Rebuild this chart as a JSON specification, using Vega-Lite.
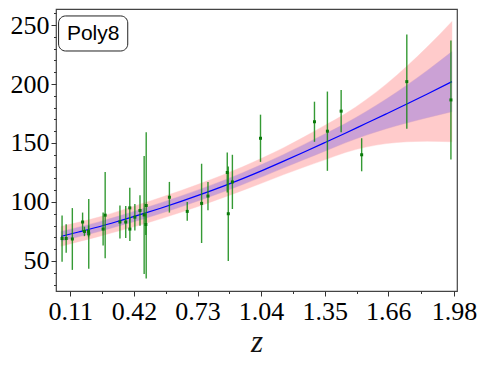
{
  "$schema": "https://vega.github.io/schema/vega-lite/v6.json",
  "autosize": "none",
  "width": 401,
  "height": 282,
  "padding": {"left": 56, "top": 9, "right": 31, "bottom": 75},
  "background": "white",
  "config": {"view": {"stroke": "#444", "strokeWidth": 1.2}},
  "datasets": {
    "fit": [
      {"z": 0.065, "h": 70.8, "lo1": 66.6, "hi1": 75.0, "lo2": 62.4, "hi2": 79.2},
      {"z": 0.15, "h": 74.5, "lo1": 70.4, "hi1": 78.6, "lo2": 66.3, "hi2": 82.7},
      {"z": 0.25, "h": 79.0, "lo1": 74.9, "hi1": 83.1, "lo2": 70.8, "hi2": 87.2},
      {"z": 0.35, "h": 84.0, "lo1": 79.8, "hi1": 88.2, "lo2": 75.6, "hi2": 92.4},
      {"z": 0.45, "h": 89.2, "lo1": 84.8, "hi1": 93.6, "lo2": 80.4, "hi2": 98.0},
      {"z": 0.55, "h": 94.7, "lo1": 90.2, "hi1": 99.2, "lo2": 85.7, "hi2": 103.7},
      {"z": 0.65, "h": 100.5, "lo1": 95.9, "hi1": 105.1, "lo2": 91.3, "hi2": 109.7},
      {"z": 0.75, "h": 106.6, "lo1": 101.9, "hi1": 111.3, "lo2": 97.2, "hi2": 116.0},
      {"z": 0.85, "h": 113.0, "lo1": 108.2, "hi1": 117.8, "lo2": 103.4, "hi2": 122.6},
      {"z": 0.95, "h": 119.8, "lo1": 114.8, "hi1": 124.8, "lo2": 109.8, "hi2": 129.8},
      {"z": 1.05, "h": 127.0, "lo1": 121.7, "hi1": 132.3, "lo2": 116.4, "hi2": 137.6},
      {"z": 1.15, "h": 134.6, "lo1": 128.9, "hi1": 140.3, "lo2": 123.2, "hi2": 146.0},
      {"z": 1.25, "h": 142.4, "lo1": 136.0, "hi1": 148.8, "lo2": 129.6, "hi2": 155.2},
      {"z": 1.35, "h": 150.3, "lo1": 143.0, "hi1": 157.6, "lo2": 135.7, "hi2": 164.9},
      {"z": 1.45, "h": 158.3, "lo1": 150.1, "hi1": 166.5, "lo2": 141.9, "hi2": 174.7},
      {"z": 1.55, "h": 166.5, "lo1": 156.5, "hi1": 176.5, "lo2": 146.5, "hi2": 186.5},
      {"z": 1.65, "h": 174.7, "lo1": 162.1, "hi1": 187.3, "lo2": 149.5, "hi2": 199.9},
      {"z": 1.75, "h": 183.0, "lo1": 167.0, "hi1": 199.0, "lo2": 151.0, "hi2": 215.0},
      {"z": 1.85, "h": 191.5, "lo1": 171.5, "hi1": 211.5, "lo2": 151.5, "hi2": 231.5},
      {"z": 1.97, "h": 202.0, "lo1": 176.5, "hi1": 227.5, "lo2": 151.0, "hi2": 253.0}
    ],
    "obs": [
      {"z": 0.07, "H": 69, "lo": 49.4, "hi": 88.6},
      {"z": 0.09, "H": 69, "lo": 57, "hi": 81},
      {"z": 0.12, "H": 68.6, "lo": 42.4, "hi": 94.8},
      {"z": 0.17, "H": 83, "lo": 75, "hi": 91},
      {"z": 0.179, "H": 75, "lo": 71, "hi": 79},
      {"z": 0.199, "H": 75, "lo": 70, "hi": 80},
      {"z": 0.2, "H": 72.9, "lo": 43.3, "hi": 102.5},
      {"z": 0.27, "H": 77, "lo": 63, "hi": 91},
      {"z": 0.28, "H": 88.8, "lo": 52.2, "hi": 125.4},
      {"z": 0.352, "H": 83, "lo": 69, "hi": 97},
      {"z": 0.3802, "H": 83, "lo": 69.5, "hi": 96.5},
      {"z": 0.4, "H": 95, "lo": 78, "hi": 112},
      {"z": 0.4004, "H": 77, "lo": 66.8, "hi": 87.2},
      {"z": 0.4247, "H": 87.1, "lo": 75.9, "hi": 98.3},
      {"z": 0.4497, "H": 92.8, "lo": 79.9, "hi": 105.7},
      {"z": 0.47, "H": 89, "lo": 39, "hi": 139},
      {"z": 0.4783, "H": 80.9, "lo": 71.9, "hi": 89.9},
      {"z": 0.48, "H": 97, "lo": 35, "hi": 159},
      {"z": 0.593, "H": 104, "lo": 91, "hi": 117},
      {"z": 0.68, "H": 92, "lo": 84, "hi": 100},
      {"z": 0.75, "H": 98.8, "lo": 65.2, "hi": 132.4},
      {"z": 0.781, "H": 105, "lo": 93, "hi": 117},
      {"z": 0.875, "H": 125, "lo": 108, "hi": 142},
      {"z": 0.88, "H": 90, "lo": 50, "hi": 130},
      {"z": 0.9, "H": 117, "lo": 94, "hi": 140},
      {"z": 1.037, "H": 154, "lo": 134, "hi": 174},
      {"z": 1.3, "H": 168, "lo": 151, "hi": 185},
      {"z": 1.363, "H": 160, "lo": 126.4, "hi": 193.6},
      {"z": 1.43, "H": 177, "lo": 159, "hi": 195},
      {"z": 1.53, "H": 140, "lo": 126, "hi": 154},
      {"z": 1.75, "H": 202, "lo": 162, "hi": 242},
      {"z": 1.965, "H": 186.5, "lo": 136.1, "hi": 236.9}
    ]
  },
  "encoding": {
    "x": {
      "type": "quantitative",
      "scale": {"domain": [0.0404, 1.9946], "nice": false, "zero": false},
      "axis": {
        "values": [0.11, 0.265, 0.42, 0.575, 0.73, 0.885, 1.04, 1.195, 1.35, 1.505, 1.66, 1.82, 1.98],
        "format": ".2f",
        "labelExpr": "indexof([0.11,0.42,0.73,1.04,1.35,1.66,1.98], datum.value) >= 0 ? datum.label : ''",
        "labelOverlap": false,
        "labelFlush": false,
        "tickSize": {"condition": {"test": "indexof([0.11,0.42,0.73,1.04,1.35,1.66,1.98], datum.value) >= 0", "value": 5}, "value": 2.5},
        "tickColor": "#333",
        "tickWidth": 1,
        "domain": false,
        "grid": false,
        "labelFont": "Liberation Serif",
        "labelFontSize": 26,
        "labelColor": "#000",
        "labelPadding": 2,
        "title": "z",
        "titleFont": "Liberation Serif",
        "titleFontStyle": "italic",
        "titleFontWeight": "normal",
        "titleFontSize": 31,
        "titleColor": "#111",
        "titlePadding": 3
      }
    },
    "y": {
      "type": "quantitative",
      "scale": {"domain": [24.5, 263.6], "nice": false, "zero": false},
      "axis": {
        "values": [30, 40, 50, 60, 70, 80, 90, 100, 110, 120, 130, 140, 150, 160, 170, 180, 190, 200, 210, 220, 230, 240, 250, 260],
        "format": "d",
        "labelExpr": "datum.value % 50 === 0 ? datum.label : ''",
        "labelOverlap": false,
        "labelFlush": false,
        "tickSize": {"condition": {"test": "datum.value % 50 === 0", "value": 5}, "value": 2.5},
        "tickColor": "#333",
        "tickWidth": 1,
        "domain": false,
        "grid": false,
        "labelFont": "Liberation Serif",
        "labelFontSize": 26,
        "labelColor": "#000",
        "labelPadding": 2,
        "title": null
      }
    }
  },
  "layer": [
    {
      "data": {"name": "fit"},
      "mark": {"type": "area", "color": "#ff0000", "opacity": 0.2, "stroke": "#ff0000", "strokeOpacity": 0.4, "strokeWidth": 1, "interpolate": "monotone"},
      "encoding": {"x": {"field": "z"}, "y": {"field": "lo2"}, "y2": {"field": "hi2"}}
    },
    {
      "data": {"name": "fit"},
      "mark": {"type": "area", "color": "#0000ff", "opacity": 0.2, "stroke": "#4000a0", "strokeOpacity": 0.4, "strokeWidth": 1, "interpolate": "monotone"},
      "encoding": {"x": {"field": "z"}, "y": {"field": "lo1"}, "y2": {"field": "hi1"}}
    },
    {
      "data": {"name": "fit"},
      "mark": {"type": "line", "color": "#0000ff", "strokeWidth": 1.2, "interpolate": "monotone"},
      "encoding": {"x": {"field": "z"}, "y": {"field": "h"}}
    },
    {
      "data": {"name": "obs"},
      "mark": {"type": "rule", "color": "#118811", "strokeWidth": 1.4, "opacity": 0.85},
      "encoding": {"x": {"field": "z"}, "y": {"field": "lo"}, "y2": {"field": "hi"}}
    },
    {
      "data": {"name": "obs"},
      "mark": {"type": "point", "shape": "square", "filled": true, "size": 9, "color": "#0a7a0a", "opacity": 1},
      "encoding": {"x": {"field": "z"}, "y": {"field": "H"}}
    },
    {
      "data": {"values": [{"label": "Poly8"}]},
      "mark": {"type": "rect", "fill": "white", "stroke": "#222", "strokeWidth": 1, "cornerRadius": 7},
      "encoding": {"x": {"datum": 0.053}, "x2": {"datum": 0.39}, "y": {"datum": 257.7}, "y2": {"datum": 228.0}}
    },
    {
      "data": {"values": [{"label": "Poly8"}]},
      "mark": {"type": "text", "font": "Liberation Sans", "fontSize": 21, "color": "#000", "align": "center", "baseline": "middle"},
      "encoding": {"x": {"datum": 0.2215}, "y": {"datum": 242.8}, "text": {"field": "label"}}
    }
  ]
}
